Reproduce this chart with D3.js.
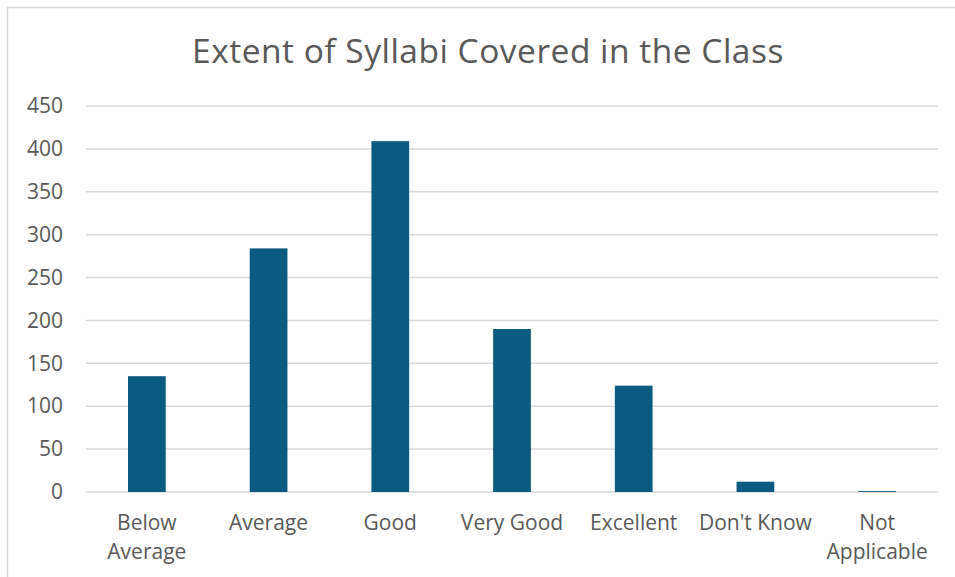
<!DOCTYPE html>
<html><head><meta charset="utf-8">
<script src="https://cdn.jsdelivr.net/npm/d3@7"></script>
<style>body{margin:0;background:#fff;} text{font-family:"Open Sans","Noto Sans",sans-serif;}</style>
</head><body>
<svg id="c" width="955" height="577"></svg>
<script>
const categories = [["Below","Average"],["Average"],["Good"],["Very Good"],["Excellent"],["Don't Know"],["Not","Applicable"]];
const values = [135, 284, 409, 190, 124, 12, 1];
const yTicks = [0,50,100,150,200,250,300,350,400,450];
const title = "Extent of Syllabi Covered in the Class";

const svg = d3.select("#c");
svg.append("rect").attr("x",7.5).attr("y",7.5).attr("width",1000).attr("height",1000)
  .attr("fill","#fff").attr("stroke","#d9d9d9").attr("stroke-width",1.5);

const x = d3.scaleBand().domain(d3.range(categories.length)).range([86,938]).padding(0);
const y = d3.scaleLinear().domain([0,450]).range([492,106]);

svg.append("text").attr("x",488).attr("y",63).attr("text-anchor","middle")
  .attr("font-size",33.5).attr("letter-spacing",0.5).attr("fill","#595959").text(title);

const grid = svg.append("g");
grid.selectAll("line").data(yTicks).join("line")
  .attr("x1",86).attr("x2",938).attr("y1",d=>y(d)).attr("y2",d=>y(d))
  .attr("stroke","#d9d9d9").attr("stroke-width",1.5);

const yAxis = d3.axisLeft(y).tickValues(yTicks).tickSize(0).tickPadding(0);
const ya = svg.append("g").attr("transform","translate(63,0)").call(yAxis);
ya.select(".domain").remove();
ya.selectAll("text").attr("font-size",21).attr("fill","#595959").attr("font-family","'Open Sans','Noto Sans',sans-serif");

const bw = x.bandwidth()*0.31;
svg.append("g").selectAll("rect").data(values).join("rect")
  .attr("x",(d,i)=>x(i)+x.bandwidth()/2-bw/2).attr("width",bw)
  .attr("y",d=>y(d)).attr("height",d=>y(0)-y(d)).attr("fill","#0b5a80");

const lab = svg.append("g").selectAll("text").data(categories).join("text")
  .attr("text-anchor","middle").attr("font-size",21).attr("fill","#595959")
  .attr("x",(d,i)=>x(i)+x.bandwidth()/2).attr("y",530);
lab.selectAll("tspan").data(d=>d).join("tspan")
  .attr("x",function(){return this.parentNode.getAttribute("x");})
  .attr("dy",(d,i)=>i===0?0:29).text(d=>d);
</script>
</body></html>
